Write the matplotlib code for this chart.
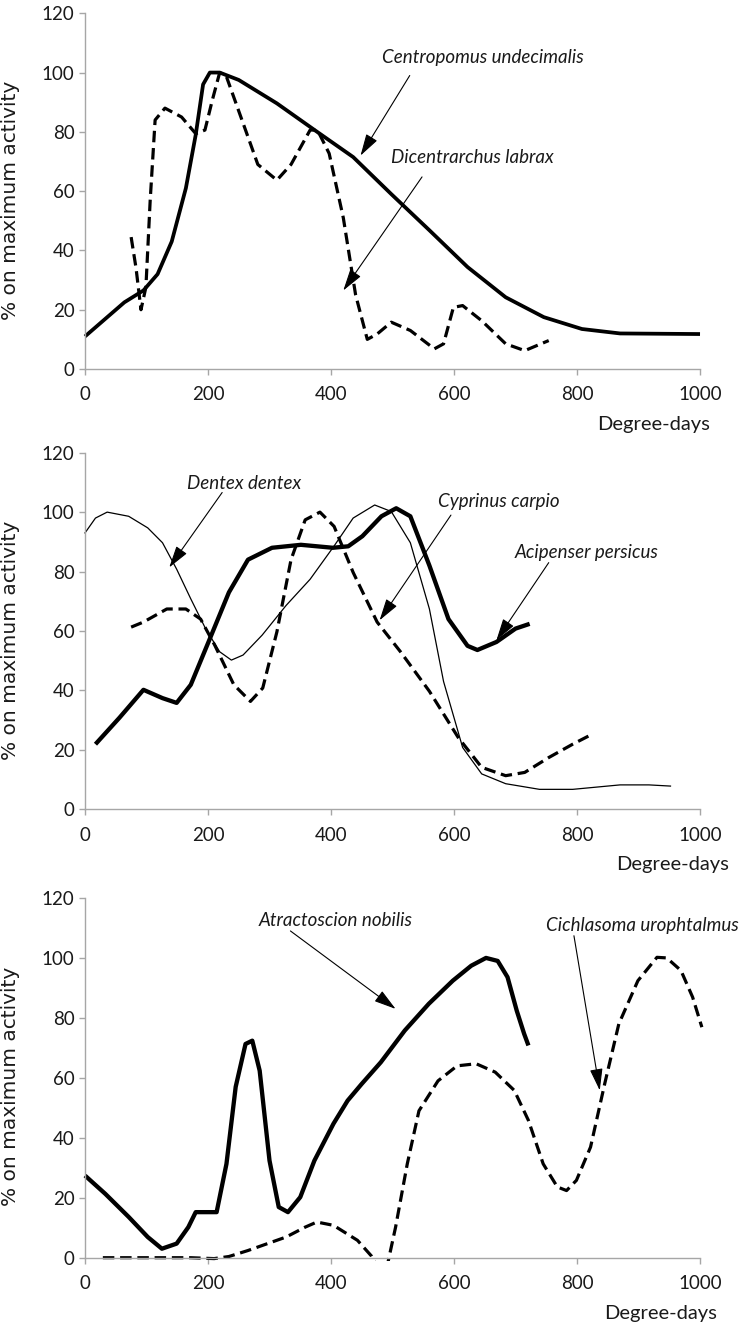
import numpy as np
import matplotlib.pyplot as plt
from matplotlib.patches import Rectangle

# Activity curves (% of maximum) against degree-days, read per species

# --- top panel ---
centropomus_x = [0, 64, 95, 118, 141, 164, 180, 192, 203, 219, 250, 312, 374,
                 436, 498, 560, 622, 684, 746, 808, 870, 1000]
centropomus_y = [11, 22.5, 26.5, 32, 43, 61, 79, 96, 100, 100, 97.5, 89.6, 80.5,
                 71.5, 59, 46.8, 34.4, 24.2, 17.5, 13.5, 12, 11.8]

dicentrarchus_x = [75, 83, 91, 99, 106, 114, 130, 157, 180, 195, 207, 219, 230,
                   250, 281, 312, 335, 366, 378, 397, 420, 440, 459, 475, 498,
                   529, 568, 583, 599, 614, 645, 684, 715, 754]
dicentrarchus_y = [44.5, 34, 20, 27.6, 57, 84, 88, 85, 79.4, 80.6, 90.7, 100, 98.6,
                   87, 69, 63.7, 69, 80.6, 80.6, 72.7, 51, 25, 10, 11.8, 15.8,
                   13, 6.8, 8.5, 20.8, 21.4, 16.3, 8.5, 6.2, 9.6]

# --- middle panel ---
acipenser_x = [17, 56, 95, 126, 149, 172, 203, 234, 265, 304, 351, 403, 428, 451,
               482, 506, 529, 560, 591, 622, 638, 669, 700, 723]
acipenser_y = [21.9, 30.8, 40.2, 37.4, 35.8, 41.9, 57.4, 73, 84, 88, 89, 88, 88.5,
               91.9, 98.6, 101.3, 98.6, 82, 64, 55, 53.6, 56.3, 60.8, 62.4]

dentex_x = [0, 17, 36, 71, 102, 126, 149, 172, 196, 219, 238, 257, 288, 327, 366,
            405, 436, 471, 498, 529, 560, 583, 614, 645, 684, 739, 793, 870, 917, 952]
dentex_y = [93, 98, 100, 98.6, 94.7, 89.7, 80.8, 70.8, 60.8, 53, 50.2, 51.9, 58.6,
            68.6, 77.4, 88.6, 98, 102.4, 100.2, 89.7, 67.4, 43, 20.8, 11.9, 8.6,
            6.7, 6.7, 8.2, 8.2, 7.8]

cyprinus_x = [75, 95, 133, 164, 188, 211, 242, 269, 289, 312, 335, 358, 382, 405,
              436, 475, 513, 560, 607, 645, 684, 715, 754, 793, 824]
cyprinus_y = [61.3, 63, 67.4, 67.4, 64, 55.2, 41.9, 36.3, 40.8, 59.7, 84, 97.4, 100,
              95.2, 79.7, 63, 53, 39.7, 24.1, 14.1, 11.3, 12.4, 17.4, 21.9, 25.2]

# --- bottom panel ---
atractoscion_x = [0, 33, 71, 102, 125, 149, 168, 180, 195, 214, 230, 245, 261, 272,
                  284, 300, 315, 330, 350, 373, 404, 427, 450, 481, 520, 559, 598,
                  628, 652, 671, 687, 702, 714, 721]
atractoscion_y = [27.4, 21.3, 13.6, 6.9, 3, 4.7, 10.2, 15.2, 15.2, 15.2, 31.3, 57,
                  71.3, 72.4, 62.4, 32.4, 16.9, 15.2, 20.2, 32.4, 44.7, 52.4, 58,
                  65.2, 75.8, 84.7, 92.4, 97.4, 100, 99, 93.6, 82.4, 74.7, 70.8]

cichlasoma_x = [29, 172, 210, 234, 265, 327, 358, 377, 404, 443, 466, 478, 490, 505,
                524, 543, 574, 605, 636, 667, 698, 721, 745, 768, 783, 799, 822,
                845, 868, 899, 930, 946, 969, 988, 1003]
cichlasoma_y = [0, 0, -0.3, 0.4, 2.4, 6.9, 10.2, 11.9, 10.8, 5.8, 0.5, -4, -4, 10.2,
                31.3, 49, 59, 64, 64.7, 61.9, 55.8, 45.8, 31.3, 23.6, 22.4, 25.8,
                36.9, 58, 78, 92.4, 100.2, 100, 95.8, 86.9, 76.9]

x_ticks = [0, 200, 400, 600, 800, 1000]
y_ticks = [0, 20, 40, 60, 80, 100, 120]

TXT_FONT = ['Lato', 'DejaVu Sans']
AXIS_GREY = '#a6a6a6'
INK = '#1a1a1a'

fig = plt.figure(figsize=(7.49, 13.26), dpi=100)

panels = [(0.1135, 0.7217, 0.8211, 0.2683),
          (0.1135, 0.3897, 0.8211, 0.2689),
          (0.1135, 0.0515, 0.8211, 0.2713)]
axes = [fig.add_axes(p) for p in panels]

# right edge of each "Degree-days" caption, in axes fraction
caption_right = [1.016, 1.047, 1.028]


def style_axes(ax, cap_x):
    ax.set_xlim(0, 1000)
    ax.set_ylim(0, 120)
    ax.set_xticks(x_ticks)
    ax.set_yticks(y_ticks)
    for side in ('top', 'right'):
        ax.spines[side].set_visible(False)
    for side in ('left', 'bottom'):
        ax.spines[side].set_color(AXIS_GREY)
        ax.spines[side].set_linewidth(1.0)
    ax.tick_params(axis='both', direction='out', length=4.5, width=1.0,
                   color=AXIS_GREY, labelsize=13.5, labelcolor=INK)
    ax.tick_params(axis='x', pad=8)
    ax.tick_params(axis='y', pad=3)
    for lab in ax.get_xticklabels() + ax.get_yticklabels():
        lab.set_family(TXT_FONT)
    ax.set_ylabel('% on maximum activity', fontsize=14.5, family='DejaVu Sans',
                  color=INK)
    ax.yaxis.set_label_coords(-0.105, 0.475)
    ax.text(cap_x, -0.155, 'Degree-days', transform=ax.transAxes, ha='right',
            va='center', fontsize=14.5, family=TXT_FONT, color=INK)


def curve(ax, x, y, kind):
    if kind == 'thick':
        ln, = ax.plot(x, y, color='black', lw=2.7, solid_capstyle='butt',
                      solid_joinstyle='round')
    elif kind == 'heavy':
        ln, = ax.plot(x, y, color='black', lw=3.1, solid_capstyle='butt',
                      solid_joinstyle='round')
    elif kind == 'thin':
        ln, = ax.plot(x, y, color='black', lw=0.9)
    else:
        ln, = ax.plot(x, y, color='black', lw=2.3, dashes=(3.6, 1.8),
                      dash_joinstyle='round')
    # let lines sitting on the axes edge show fully, but cut what dips below
    clip = Rectangle((-0.01, -0.008), 1.03, 1.1, transform=ax.transAxes)
    ln.set_clip_path(clip)
    return ln


def label(ax, text, pos, tail, head):
    ax.text(pos[0], pos[1], text, style='italic', family=TXT_FONT, fontsize=13.5,
            ha='center', va='center', color=INK, clip_on=False)
    ax.annotate('', xy=head, xytext=tail,
                arrowprops=dict(arrowstyle='-|>,head_length=0.75,head_width=0.22',
                                mutation_scale=18, lw=0.8, color='black',
                                shrinkA=0, shrinkB=0))


ax1, ax2, ax3 = axes
for ax, cap_x in zip(axes, caption_right):
    style_axes(ax, cap_x)

curve(ax1, centropomus_x, centropomus_y, 'thick')
curve(ax1, dicentrarchus_x, dicentrarchus_y, 'dash')
label(ax1, 'Centropomus undecimalis', (647, 105), (528, 99), (448, 72))
label(ax1, 'Dicentrarchus labrax', (630, 71.5), (548, 64.8), (420, 26.5))

curve(ax2, acipenser_x, acipenser_y, 'heavy')
curve(ax2, dentex_x, dentex_y, 'thin')
curve(ax2, cyprinus_x, cyprinus_y, 'dash')
label(ax2, 'Dentex dentex', (258, 109.7), (223, 106.6), (137, 81.4))
label(ax2, 'Cyprinus carpio', (673, 103.6), (595, 99), (479, 63.6))
label(ax2, 'Acipenser persicus', (816, 86.3), (754, 83), (669, 56.9))

curve(ax3, atractoscion_x, atractoscion_y, 'heavy')
curve(ax3, cichlasoma_x, cichlasoma_y, 'dash')
label(ax3, 'Atractoscion nobilis', (408, 112.4), (334, 109), (505, 83))
label(ax3, 'Cichlasoma urophtalmus', (906, 110.9), (795, 107.4), (837, 55.8))

fig.savefig('out.png', dpi=100)
